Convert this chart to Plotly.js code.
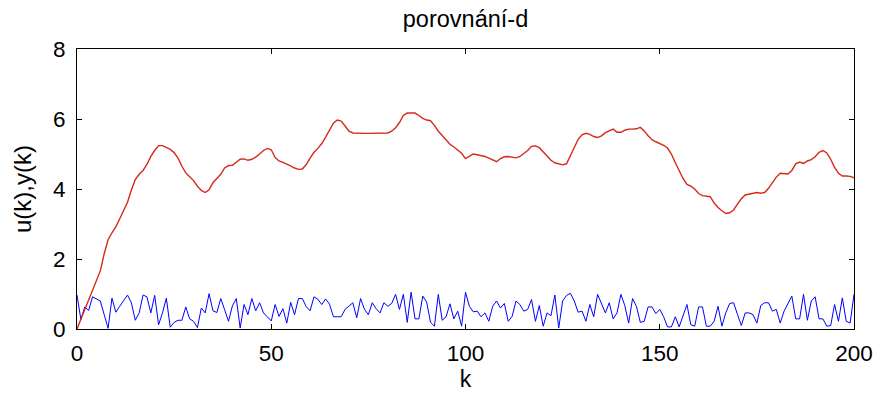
<!DOCTYPE html>
<html>
<head>
<meta charset="utf-8">
<script src="https://cdn.plot.ly/plotly-3.0.1.min.js"></script>
<style>html,body{margin:0;padding:0;background:#fff;}#chart{width:877px;height:396px;}</style>
</head>
<body>
<div id="chart"></div>
<script>
// k = 0..200
const kValues = Array.from({length: 201}, (_, i) => i);

// u(k): blue input signal
const uValues = [
0.97,0.27,0.63,0.53,0.92,0.86,0.80,0.41,0.02,0.88,
0.48,0.65,0.81,0.97,0.75,0.25,0.46,0.97,0.92,0.46,
0.96,0.12,0.46,0.88,0.05,0.19,0.25,0.25,0.63,0.29,
0.22,0.04,0.60,0.46,1.01,0.52,0.47,0.87,0.55,0.22,
0.66,0.87,0.03,0.70,0.41,0.87,0.52,0.75,0.46,0.34,
0.23,0.70,0.36,0.58,0.17,0.76,0.41,0.87,0.87,0.64,
0.52,0.92,0.85,0.70,0.86,0.71,0.35,0.35,0.35,0.56,
0.65,0.75,0.32,0.87,0.56,0.41,0.75,0.58,0.46,0.75,
0.65,0.73,0.99,0.56,0.99,0.19,1.05,0.29,0.29,0.94,
0.77,0.19,0.08,0.99,0.25,0.35,0.72,0.29,0.51,0.08,
1.05,0.65,0.49,0.51,0.35,0.46,0.22,0.65,0.80,0.60,
0.73,0.22,0.36,0.80,0.70,0.51,0.56,0.84,0.22,0.67,
0.08,0.46,0.38,0.97,0.03,0.80,0.96,1.02,0.80,0.48,
0.51,0.22,0.70,0.35,0.99,0.75,0.46,0.75,0.29,0.46,
0.99,0.67,0.17,0.87,0.65,0.19,0.22,0.63,0.63,0.44,
0.56,0.35,0.06,0.06,0.35,0.06,0.38,0.70,0.12,0.08,
0.63,0.63,0.08,0.08,0.22,0.65,0.08,0.46,0.73,0.75,
0.42,0.10,0.46,0.46,0.41,0.17,0.67,0.75,0.75,0.51,
0.56,0.17,0.51,0.72,0.94,0.29,0.29,0.99,0.25,0.80,
0.92,0.29,0.29,0.08,0.10,0.70,0.22,0.89,0.22,0.17,
0.99
];

// y(k): red output signal
const yValues = [
0.00,0.27,0.53,0.80,1.07,1.35,1.66,2.15,2.55,2.75,
2.92,3.15,3.38,3.62,3.97,4.27,4.42,4.53,4.70,4.93,
5.10,5.24,5.24,5.18,5.13,5.04,4.88,4.65,4.46,4.35,
4.24,4.08,3.96,3.90,3.98,4.18,4.30,4.42,4.60,4.67,
4.68,4.76,4.85,4.86,4.82,4.85,4.91,5.00,5.10,5.16,
5.12,4.90,4.80,4.76,4.72,4.66,4.60,4.56,4.57,4.70,
4.88,5.05,5.16,5.30,5.48,5.66,5.88,5.97,5.94,5.80,
5.65,5.60,5.59,5.59,5.59,5.59,5.59,5.59,5.59,5.59,
5.60,5.65,5.75,5.90,6.10,6.17,6.17,6.17,6.10,6.02,
5.97,5.95,5.82,5.65,5.53,5.40,5.28,5.20,5.12,5.02,
4.87,4.93,5.00,4.98,4.96,4.93,4.88,4.82,4.78,4.87,
4.92,4.93,4.92,4.89,4.93,5.02,5.10,5.22,5.23,5.18,
5.05,4.93,4.82,4.75,4.72,4.69,4.72,4.95,5.20,5.42,
5.55,5.59,5.56,5.50,5.47,5.52,5.61,5.67,5.71,5.62,
5.62,5.68,5.71,5.71,5.72,5.76,5.66,5.52,5.41,5.35,
5.30,5.25,5.17,5.00,4.75,4.50,4.30,4.13,4.08,4.00,
3.87,3.81,3.80,3.78,3.60,3.47,3.38,3.30,3.32,3.40,
3.57,3.72,3.83,3.86,3.87,3.90,3.88,3.90,4.02,4.20,
4.34,4.45,4.45,4.43,4.53,4.72,4.77,4.73,4.80,4.84,
4.92,5.05,5.10,5.03,4.85,4.62,4.45,4.37,4.37,4.36,
4.32
];

const xTicks = [0, 50, 100, 150, 200];
const yTicks = [0, 2, 4, 6, 8];

const fontFam = 'Liberation Sans, Arial, sans-serif';

const traces = [
  {x: kValues, y: uValues, type: 'scatter', mode: 'lines',
   line: {color: '#0000ff', width: 1}, hoverinfo: 'skip'},
  {x: kValues, y: yValues, type: 'scatter', mode: 'lines',
   line: {color: '#d42a17', width: 1.4}, hoverinfo: 'skip'}
];

const axisCommon = {
  showline: true, linecolor: '#000', linewidth: 1, mirror: 'ticks',
  ticks: 'inside', ticklen: 5, tickwidth: 1, tickcolor: '#000',
  showgrid: false, zeroline: false,
  tickfont: {family: fontFam, size: 22.5, color: '#000'}
};

const layout = {
  width: 877, height: 396,
  margin: {l: 77, r: 23, t: 49, b: 67},
  paper_bgcolor: '#fff', plot_bgcolor: '#fff',
  showlegend: false,
  title: {text: 'porovnání-d', font: {family: fontFam, size: 23.5, color: '#000'},
          x: 0.5, xanchor: 'center', xref: 'paper', y: 0.952, yanchor: 'middle'},
  xaxis: Object.assign({}, axisCommon, {
    range: [0, 200], tickvals: xTicks, ticktext: xTicks.map(String),
    ticklabelstandoff: 4,
    title: {text: 'k', font: {family: fontFam, size: 23, color: '#000'}, standoff: 5}
  }),
  yaxis: Object.assign({}, axisCommon, {
    range: [0, 8], tickvals: yTicks, ticktext: yTicks.map(String),
    ticklabelstandoff: 6,
    title: {text: 'u(k),y(k)', font: {family: fontFam, size: 24, color: '#000'}, standoff: 14}
  })
};

Plotly.newPlot('chart', traces, layout, {staticPlot: true, displayModeBar: false});
</script>
</body>
</html>
